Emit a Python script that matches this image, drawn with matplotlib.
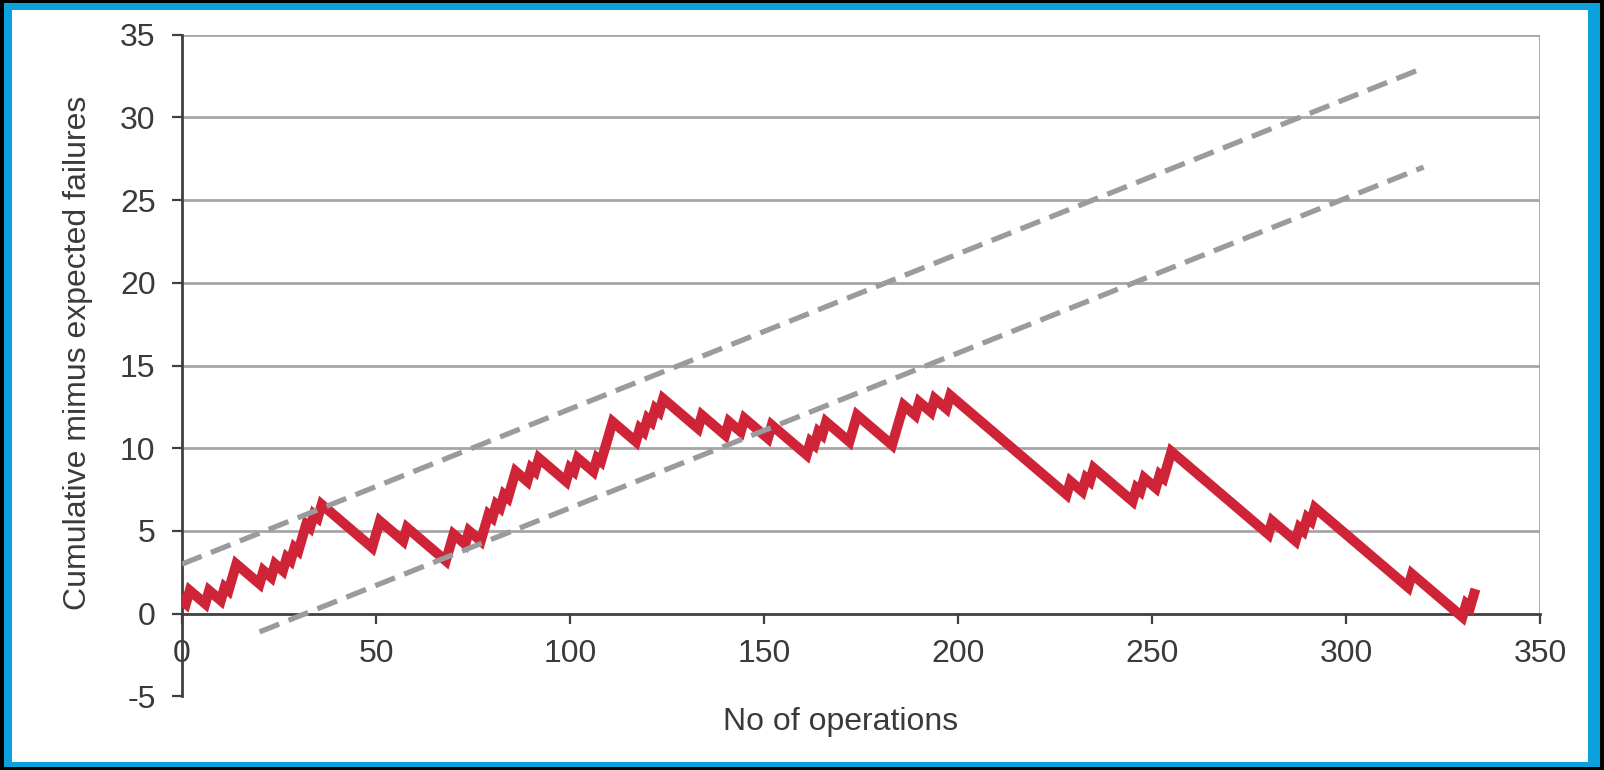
import numpy as np
import matplotlib.pyplot as plt
from matplotlib.patches import Rectangle

plt.rcParams['font.family'] = ['Liberation Sans', 'DejaVu Sans']
plt.rcParams['axes.unicode_minus'] = False

# operations (numbered from 0) that ended in a failure
failure_ops = [0, 2, 7, 11, 13, 14,
               21, 24, 27, 29, 31, 32, 34, 36,
               50, 51, 58, 69, 70, 74,
               78, 79, 81, 83, 85, 86, 90, 92,
               100, 102, 107, 109, 110, 111,
               118, 120, 122, 124,
               134, 141, 145, 152,
               162, 164, 166, 173, 174,
               184, 185, 186, 190, 194, 198,
               229, 233, 235,
               246, 248, 252, 254, 255,
               281, 288, 290, 292,
               317, 331, 333]
n_operations = 334
expected_rate = 0.2

# control limits
upper_x = [0, 320]
upper_y = [3, 33]
lower_x = [20, 320]
lower_y = [-1.1, 27]

x_ticks = [0, 50, 100, 150, 200, 250, 300, 350]
y_ticks = [-5, 0, 5, 10, 15, 20, 25, 30, 35]

ops = np.arange(n_operations)
outcome = np.isin(ops, failure_ops).astype(float)
cusum = np.cumsum(outcome - expected_rate)

W, H = 1604, 770
fig = plt.figure(figsize=(W / 100, H / 100), dpi=100)
fig.patch.set_facecolor('black')

# blue frame around a white panel
fig.patches.append(Rectangle((4 / W, 3 / H), 1596 / W, 764 / H, transform=fig.transFigure,
                             facecolor='#0ca0dc', edgecolor='none', zorder=-2))
fig.patches.append(Rectangle((12 / W, 8 / H), 1576 / W, 752 / H, transform=fig.transFigure,
                             facecolor='white', edgecolor='none', zorder=-1))

ax = fig.add_axes([182 / W, (H - 696.4) / H, 1358 / W, 661.6 / H])
ax.set_facecolor('none')

ax.plot(ops, cusum, color='#cf2338', lw=7.2, solid_joinstyle='miter', zorder=3)
ax.plot(upper_x, upper_y, color='#9a9b9e', lw=3.8, dashes=(4.0, 1.9), zorder=4)
ax.plot(lower_x, lower_y, color='#9a9b9e', lw=3.8, dashes=(4.0, 1.9), zorder=4)

ax.set_xlim(0, 350)
ax.set_ylim(-5, 35)
ax.set_xticks(x_ticks)
ax.set_yticks(y_ticks)

for v in y_ticks:
    if v > 0:
        ax.axhline(v, color='#a6a6a6', lw=2, zorder=1)
ax.axvline(350, ymin=5 / 40, ymax=1, color='#a6a6a6', lw=2, zorder=1)

for s in ['top', 'right']:
    ax.spines[s].set_visible(False)
ax.spines['bottom'].set_position(('data', 0))
for s in ['left', 'bottom']:
    ax.spines[s].set_color('#404040')
    ax.spines[s].set_linewidth(2)
    ax.spines[s].set_zorder(2)

ax.tick_params(axis='both', direction='out', length=7, width=1.6, color='#404040',
               labelsize=23, labelcolor='#3a3a3a')
ax.tick_params(axis='y', pad=12)
ax.tick_params(axis='x', pad=11.5)

ax.text(-0.0765, 0.519, 'Cumulative mimus expected failures', transform=ax.transAxes,
        rotation=90, ha='center', va='center', fontsize=23, color='#3a3a3a')
ax.text(0.485, -0.0387, 'No of operations', transform=ax.transAxes,
        ha='center', va='center', fontsize=23, color='#3a3a3a')

fig.savefig('out.png', dpi=100, facecolor=fig.get_facecolor())
